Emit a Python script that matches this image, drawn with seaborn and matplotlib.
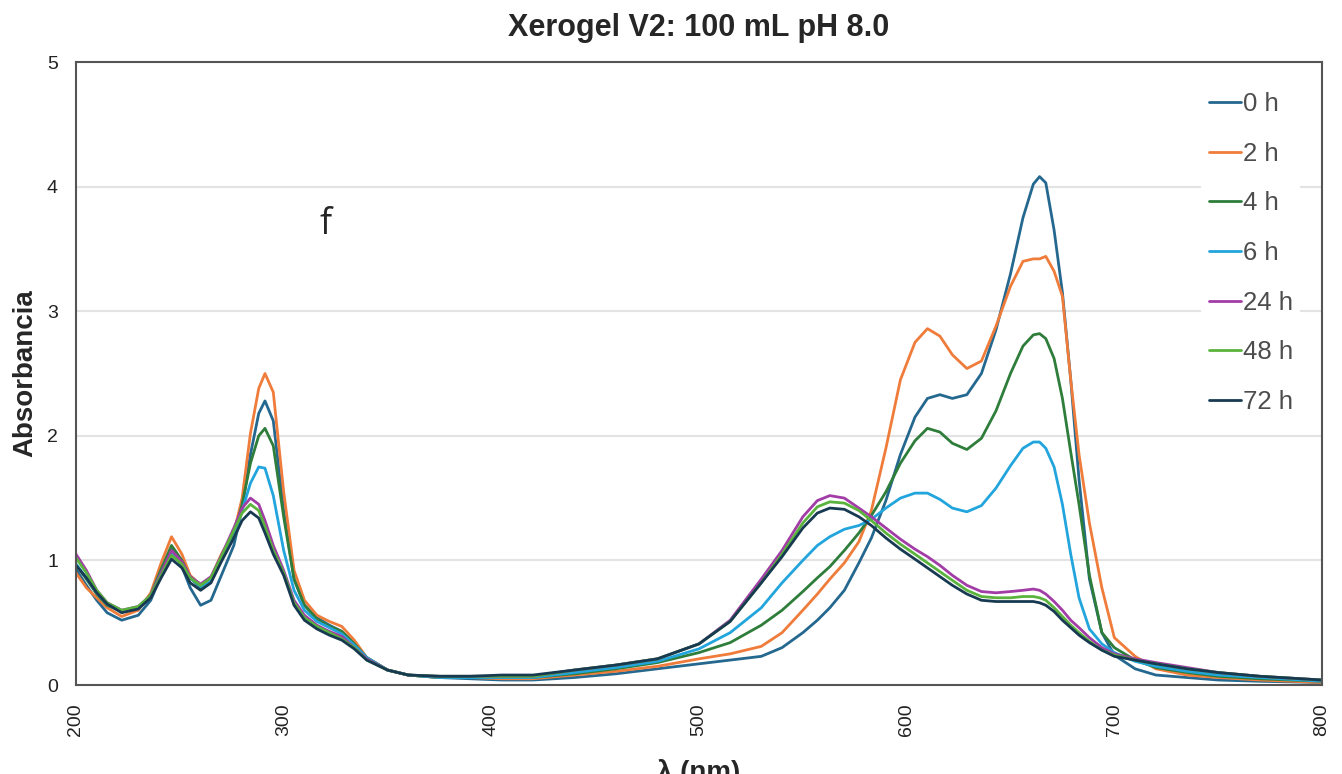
import numpy as np
import pandas as pd
import matplotlib
matplotlib.use("Agg")
import matplotlib.pyplot as plt
import seaborn as sns

wavelength = [200, 205, 210, 215, 222, 230, 236, 241, 246, 251, 255, 260, 265, 270, 276, 280,
              284, 288, 291, 295, 300, 305, 310, 316, 322, 328, 334, 340, 350, 360, 375, 390,
              405, 420, 440, 460, 480, 500, 515, 530, 540, 550, 557, 563, 570, 577, 583, 590,
              597, 604, 610, 616, 622, 629, 636, 643, 650, 656, 661, 664, 667, 671, 675, 679,
              683, 688, 694, 700, 710, 720, 735, 750, 770, 800]

a_0h = [0.93, 0.80, 0.68, 0.58, 0.52, 0.56, 0.68, 0.88, 1.10, 0.95, 0.78, 0.64, 0.68, 0.88, 1.12, 1.42,
        1.85, 2.18, 2.28, 2.12, 1.40, 0.85, 0.64, 0.54, 0.48, 0.43, 0.33, 0.22, 0.12, 0.08, 0.06, 0.05,
        0.04, 0.04, 0.06, 0.09, 0.13, 0.17, 0.20, 0.23, 0.30, 0.42, 0.52, 0.62, 0.76, 0.98, 1.18, 1.48,
        1.85, 2.15, 2.30, 2.33, 2.30, 2.33, 2.50, 2.85, 3.30, 3.75, 4.02, 4.08, 4.03, 3.65, 3.15, 2.45,
        1.65, 0.85, 0.42, 0.24, 0.13, 0.08, 0.06, 0.04, 0.03, 0.02]

a_2h = [0.90, 0.78, 0.70, 0.62, 0.55, 0.60, 0.74, 0.98, 1.19, 1.05, 0.88, 0.80, 0.86, 1.05, 1.22, 1.50,
        2.02, 2.38, 2.50, 2.35, 1.55, 0.92, 0.68, 0.56, 0.51, 0.47, 0.36, 0.22, 0.12, 0.08, 0.06, 0.06,
        0.05, 0.05, 0.08, 0.11, 0.15, 0.21, 0.25, 0.31, 0.42, 0.60, 0.73, 0.85, 0.98, 1.15, 1.40, 1.90,
        2.45, 2.75, 2.86, 2.80, 2.65, 2.54, 2.60, 2.88, 3.20, 3.40, 3.42, 3.42, 3.44, 3.32, 3.12, 2.45,
        1.85, 1.30, 0.78, 0.38, 0.23, 0.13, 0.08, 0.06, 0.04, 0.02]

a_4h = [0.97, 0.85, 0.73, 0.64, 0.59, 0.62, 0.72, 0.93, 1.12, 1.00, 0.86, 0.78, 0.84, 1.02, 1.20, 1.45,
        1.78, 2.00, 2.06, 1.92, 1.35, 0.85, 0.64, 0.53, 0.47, 0.43, 0.33, 0.22, 0.12, 0.08, 0.06, 0.06,
        0.06, 0.06, 0.09, 0.13, 0.18, 0.26, 0.34, 0.48, 0.60, 0.75, 0.86, 0.95, 1.08, 1.22, 1.36, 1.55,
        1.78, 1.96, 2.06, 2.03, 1.94, 1.89, 1.98, 2.20, 2.50, 2.72, 2.81, 2.82, 2.78, 2.62, 2.30, 1.87,
        1.45, 0.88, 0.42, 0.30, 0.20, 0.14, 0.10, 0.07, 0.05, 0.03]

a_6h = [0.97, 0.86, 0.74, 0.65, 0.59, 0.62, 0.72, 0.90, 1.06, 0.98, 0.86, 0.79, 0.84, 1.02, 1.18, 1.40,
        1.62, 1.75, 1.74, 1.52, 1.08, 0.76, 0.60, 0.51, 0.46, 0.41, 0.32, 0.22, 0.12, 0.08, 0.06, 0.06,
        0.06, 0.06, 0.10, 0.14, 0.19, 0.29, 0.42, 0.62, 0.82, 1.00, 1.12, 1.19, 1.25, 1.28, 1.33, 1.42,
        1.50, 1.54, 1.54, 1.49, 1.42, 1.39, 1.44, 1.58, 1.76, 1.90, 1.95, 1.95, 1.90, 1.75, 1.45, 1.05,
        0.70, 0.45, 0.33, 0.26, 0.19, 0.15, 0.11, 0.08, 0.06, 0.03]

a_24h = [1.05, 0.92, 0.76, 0.66, 0.60, 0.63, 0.72, 0.90, 1.08, 0.99, 0.87, 0.81, 0.87, 1.04, 1.26, 1.42,
         1.50, 1.45, 1.32, 1.12, 0.92, 0.68, 0.56, 0.48, 0.43, 0.39, 0.30, 0.21, 0.12, 0.08, 0.07, 0.07,
         0.07, 0.07, 0.12, 0.16, 0.21, 0.33, 0.52, 0.85, 1.08, 1.35, 1.48, 1.52, 1.50, 1.42, 1.35, 1.26,
         1.17, 1.09, 1.03, 0.96, 0.88, 0.80, 0.75, 0.74, 0.75, 0.76, 0.77, 0.76, 0.73, 0.67, 0.60, 0.52,
         0.46, 0.38, 0.30, 0.25, 0.21, 0.18, 0.14, 0.10, 0.07, 0.04]

a_48h = [1.02, 0.90, 0.76, 0.66, 0.60, 0.63, 0.72, 0.88, 1.04, 0.97, 0.86, 0.80, 0.86, 1.03, 1.24, 1.38,
         1.45, 1.40, 1.27, 1.08, 0.90, 0.66, 0.54, 0.47, 0.42, 0.37, 0.30, 0.20, 0.12, 0.08, 0.07, 0.07,
         0.07, 0.07, 0.12, 0.16, 0.21, 0.33, 0.51, 0.82, 1.05, 1.30, 1.43, 1.47, 1.46, 1.40, 1.32, 1.22,
         1.13, 1.05, 0.98, 0.91, 0.84, 0.76, 0.71, 0.70, 0.70, 0.71, 0.71, 0.70, 0.68, 0.62, 0.55, 0.48,
         0.42, 0.35, 0.28, 0.24, 0.20, 0.17, 0.13, 0.10, 0.07, 0.04]

a_72h = [0.96, 0.86, 0.74, 0.65, 0.58, 0.61, 0.70, 0.86, 1.01, 0.94, 0.82, 0.76, 0.82, 0.99, 1.18, 1.32,
         1.39, 1.34, 1.22, 1.05, 0.88, 0.64, 0.52, 0.45, 0.40, 0.36, 0.29, 0.20, 0.12, 0.08, 0.07, 0.07,
         0.08, 0.08, 0.12, 0.16, 0.21, 0.33, 0.51, 0.82, 1.03, 1.26, 1.38, 1.42, 1.41, 1.35, 1.28, 1.18,
         1.09, 1.01, 0.94, 0.87, 0.80, 0.73, 0.68, 0.67, 0.67, 0.67, 0.67, 0.66, 0.64, 0.59, 0.52, 0.46,
         0.40, 0.34, 0.28, 0.23, 0.20, 0.17, 0.13, 0.10, 0.07, 0.04]

series_labels = ["0 h", "2 h", "4 h", "6 h", "24 h", "48 h", "72 h"]
series_values = [a_0h, a_2h, a_4h, a_6h, a_24h, a_48h, a_72h]
colors = ["#24688f", "#ef7c3a", "#2e7d3a", "#22a5dc", "#a23ca6", "#5ab33c", "#173a52"]

y_ticks = [0, 1, 2, 3, 4, 5]
x_ticks = [200, 300, 400, 500, 600, 700, 800]

frames = []
for lab, vals in zip(series_labels, series_values):
    frames.append(pd.DataFrame({"wl": wavelength, "abs": vals, "serie": lab}))
df = pd.concat(frames, ignore_index=True)

sns.set_theme(style="white")
plt.rcParams["font.family"] = ["Liberation Sans", "DejaVu Sans"]

fig = plt.figure(figsize=(13.42, 7.74), dpi=100)
ax = fig.add_axes([76 / 1342, 1 - 685 / 774, (1322 - 76) / 1342, (685 - 62) / 774])

sns.lineplot(data=df, x="wl", y="abs", hue="serie", hue_order=series_labels,
             palette=colors, estimator=None, sort=False, linewidth=2.0, ax=ax)

ax.set_xlim(200, 800)
ax.set_ylim(0, 5)
ax.set_xticks(x_ticks)
ax.set_xticklabels([str(t) for t in x_ticks], rotation=90)
ax.set_yticks(y_ticks)
ax.set_yticklabels([str(t) for t in y_ticks])
ax.tick_params(axis="both", length=0, labelsize=14, labelcolor="#222222")
ax.tick_params(axis="x", pad=13)
ax.tick_params(axis="y", pad=13)

for yv in y_ticks[1:-1]:
    ax.axhline(yv, color="#e3e3e3", linewidth=1.5, zorder=0)

for sp in ax.spines.values():
    sp.set_color("#555555")
    sp.set_linewidth(1.5)

ax.set_title("Xerogel V2: 100 mL pH 8.0", fontsize=22, fontweight="bold", pad=19)
ax.set_ylabel("Absorbancia", fontsize=20, fontweight="bold", labelpad=6)
ax.set_xlabel("λ (nm)", fontsize=20, fontweight="bold", labelpad=17)

ax.text(320, 3.69, "f", fontsize=26, ha="center", va="center", family=["Open Sans", "DejaVu Sans"])

handles, labels = ax.get_legend_handles_labels()
leg = ax.legend(handles, labels, loc="upper right", bbox_to_anchor=(0.993, 0.985),
                fontsize=18.5, frameon=True, facecolor="white", edgecolor="none",
                framealpha=1.0, handlelength=1.25, handletextpad=0.05, labelspacing=1.0,
                borderpad=0.3)
for t in leg.get_texts():
    t.set_color("#4d4d4d")

fig.savefig("out.png", dpi=100)
